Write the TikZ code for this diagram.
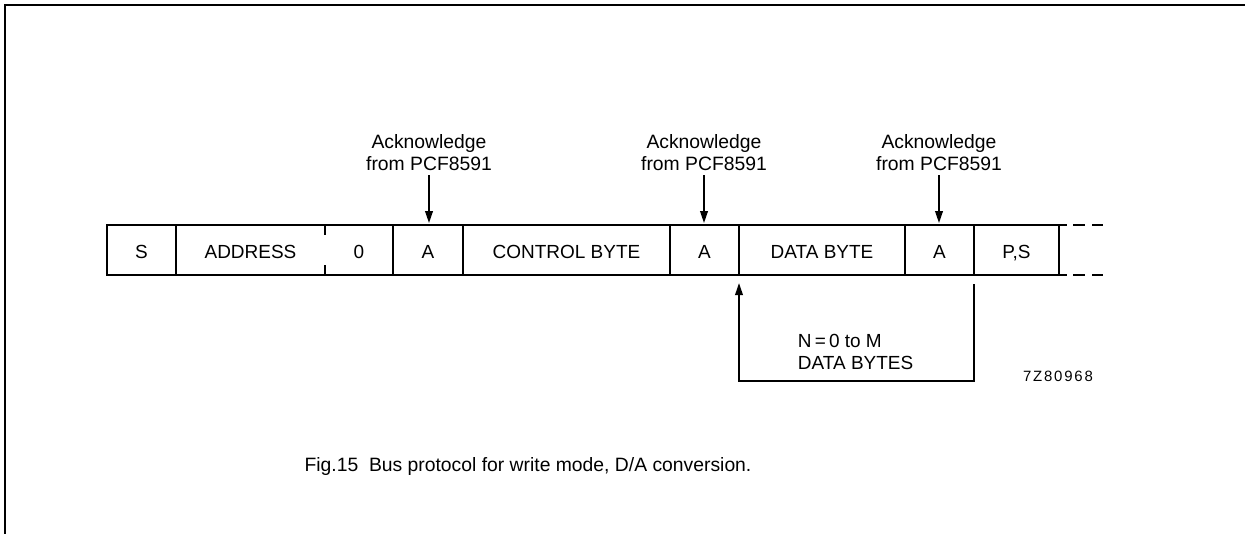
\documentclass[tikz,border=0pt]{standalone}
\usepackage{fontspec}
\setmainfont{Liberation Sans}
\usetikzlibrary{arrows.meta}
\newcommand{\ackfrom}[2]{\node[acklab](lab#1) at (#2,175) {Acknowledge\\from PCF8591};\node[inner sep=0pt](#1) at (#2,225) {};\draw[arrows={-Triangle[length=0.24cm,width=0.15cm]}] (lab#1) to (#1);}
\newcommand{\field}[4]{\node[cell](#1) at ({(#3+#4)/2},258) {#2};}

\begin{document}
\begin{tikzpicture}[x=0.02cm,y=-0.02cm,line width=1.1pt,
	cell/.style={anchor=base,inner sep=0pt,font=\fontsize{10.8}{13}\selectfont},
	acklab/.style={anchor=south,inner sep=2pt,align=center,font=\fontsize{11}{12.5}\selectfont},
	caption/.style={inner sep=0pt,font=\fontsize{11}{13}\selectfont}]
	\useasboundingbox (0,0) rectangle (1245,534);
	\draw (5,534) -- (5,5) -- (1245,5);

	\draw (107,225) rectangle (1059,275);
	\foreach \x in {176,393,463,670,739,905,974}
		\draw (\x,225) -- (\x,275);
	\draw (325,225) -- (325,235);
	\draw (325,275) -- (325,265);
	\draw[dash pattern=on 0.16cm off 0.12cm on 0.24cm off 0.14cm on 0.22cm off 2cm] (1059,225) -- (1103,225);
	\draw[dash pattern=on 0.16cm off 0.12cm on 0.24cm off 0.14cm on 0.22cm off 2cm] (1059,275) -- (1103,275);

	\field{s}{S}{107}{176}
	\field{addr}{ADDRESS}{176}{325}
	\field{rw}{0}{325}{393}
	\field{ack1}{A}{393}{463}
	\field{ctrl}{CONTROL BYTE}{463}{670}
	\field{ack2}{A}{670}{739}
	\field{data}{DATA BYTE}{739}{905}
	\field{ack3}{A}{905}{974}
	\field{stop}{P,S}{974}{1059}

	\ackfrom{top1}{429}
	\ackfrom{top2}{704}
	\ackfrom{top3}{939}

	\coordinate (loopR) at (974,284);
	\coordinate (loopL) at (739,283);
	\draw[arrows={-Triangle[length=0.24cm,width=0.15cm]}] (loopR) -- ++(0,97) -| (loopL);
	\node[inner sep=0pt,anchor=west,align=left,font=\fontsize{10.8}{13}\selectfont](nbytes) at (797,352) {N{\,}={\,}0 to M\\DATA BYTES};
	\node[inner sep=0pt,font=\fontsize{8.5}{10}\selectfont\addfontfeature{LetterSpace=12}](code) at (1058,376) {7Z80968};

	\node[caption](cap) at (528,466) {Fig.15\ \ Bus protocol for write mode, D/A conversion.};
\end{tikzpicture}
\end{document}
